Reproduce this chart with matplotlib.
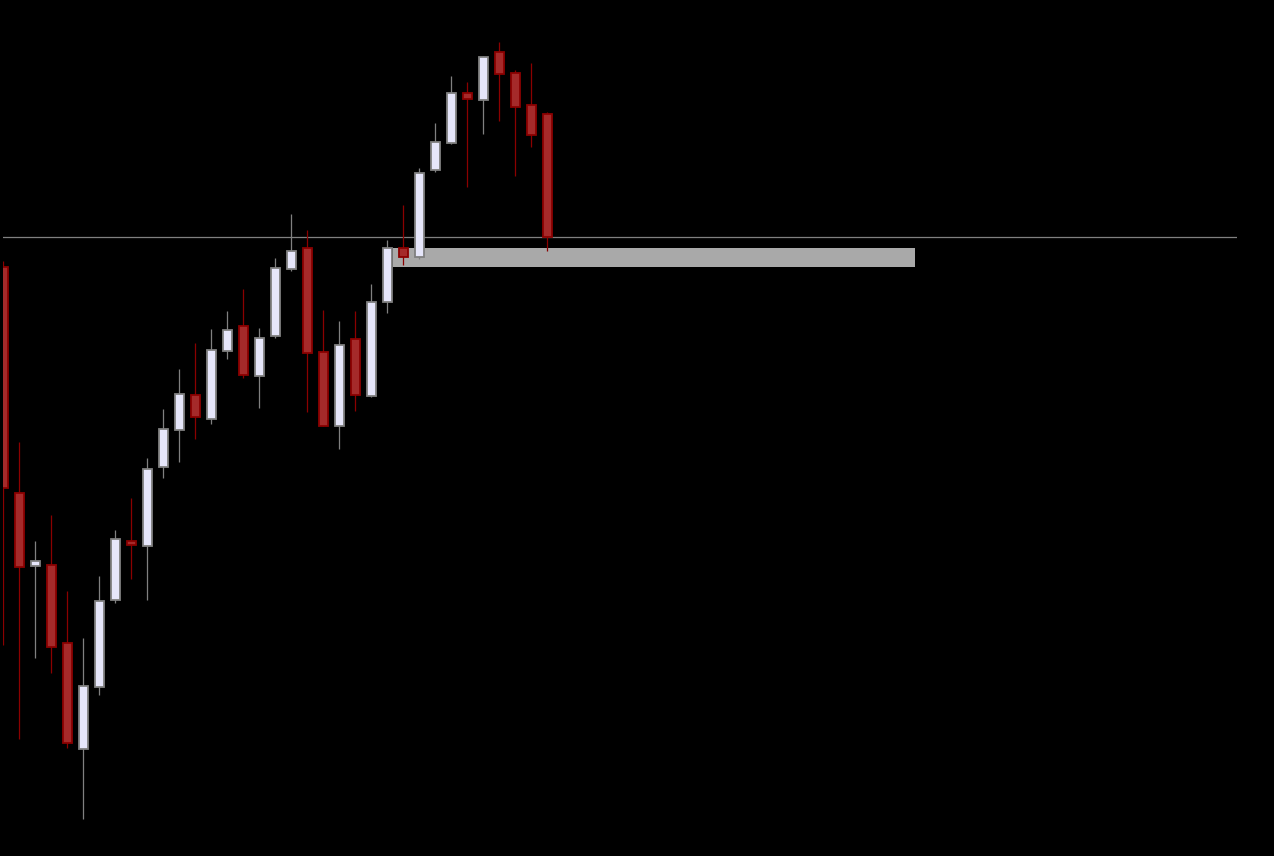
import matplotlib.pyplot as plt

# OHLC values (price units, larger = higher)
opens = [589, 363, 290, 291, 213, 107, 169, 256, 315, 310, 389, 426, 461, 437, 505,
         530, 480, 520, 587, 608, 504, 430, 517, 460, 554, 608, 599, 686, 713, 763,
         756, 804, 783, 751, 742]
highs = [595, 414, 315, 341, 265, 218, 280, 326, 358, 398, 447, 487, 513, 527, 545,
         567, 528, 598, 642, 626, 546, 535, 545, 572, 616, 651, 688, 733, 780, 774,
         800, 814, 786, 793, 744]
lows = [211, 117, 198, 183, 108, 37, 161, 253, 277, 256, 378, 394, 417, 432, 497,
        478, 448, 518, 585, 444, 430, 407, 445, 459, 543, 591, 597, 684, 712, 669,
        722, 735, 680, 709, 605]
closes = [368, 289, 295, 209, 113, 170, 255, 317, 311, 387, 427, 462, 439, 506, 526,
          481, 518, 588, 605, 503, 430, 511, 461, 554, 608, 599, 683, 714, 763, 757,
          799, 782, 749, 721, 619]

# supply/demand zone: start index, end index, bottom, top
zone_x0, zone_x1 = 24.35, 57.0
zone_lo, zone_hi = 589, 608

fig = plt.figure(figsize=(12.74, 8.56), dpi=100, facecolor='black')
ax = fig.add_axes([3 / 1274, 0, 1234 / 1274, 1])
ax.set_facecolor('black')

# zone rectangle behind the candles
ax.fill_between([zone_x0, zone_x1], zone_lo, zone_hi, color='#a9a9a9', lw=0, zorder=1)

# last close line
ax.axhline(closes[-1], color='#808080', lw=0.9, zorder=2)

xs = list(range(len(opens)))
for i in xs:
    o, h, l, c = opens[i], highs[i], lows[i], closes[i]
    up = c >= o
    fill = '#e6e6fa' if up else '#a52a2a'
    edge = '#808080' if up else '#8b0000'
    ax.vlines(i, l, h, color=edge, lw=0.9, zorder=3)
    ax.bar(i, abs(c - o), bottom=min(o, c), width=0.6, color=fill,
           edgecolor=edge, linewidth=1.3, zorder=4)

ax.set_xlim(-0.02, 77.1)
ax.set_ylim(0, 856)
ax.axis('off')

fig.savefig('out.png', dpi=100, facecolor='black')
